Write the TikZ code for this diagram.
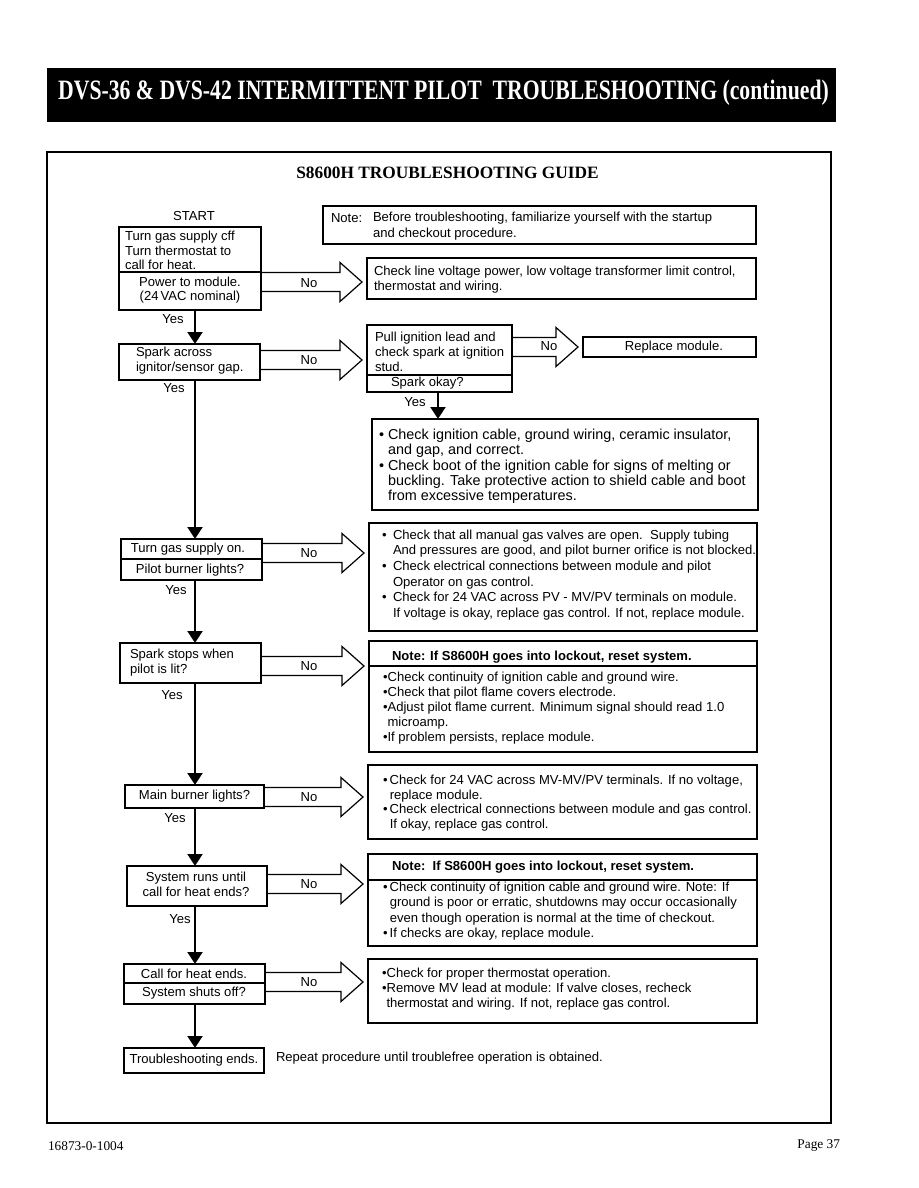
\documentclass[tikz,border=0pt]{standalone}
\usepackage{fontspec}
\setmainfont{Liberation Sans}
\newfontfamily\serif{Liberation Serif}
\usetikzlibrary{arrows.meta,calc}
\newcommand\bxat[5]{\node[bx, minimum width={(#4-#2)*0.75pt}, minimum height={(#5-#3)*0.75pt}] (#1) at (#2,#3) {};}
\newcommand\divline[2]{\draw[divl] (#1.west |- 0,#2) -- (#1.east |- 0,#2);}
\newcommand\fatarrow[3]{%
 \draw[fat] ($(#1.east |- 0,#3)+(0,-9.5)$) -- ($(#2.west |- 0,#3)+(-27,-9.5)$) -- ($(#2.west |- 0,#3)+(-27,-19.5)$)
  -- ($(#2.west |- 0,#3)+(-5,0)$) -- ($(#2.west |- 0,#3)+(-27,19.5)$) -- ($(#2.west |- 0,#3)+(-27,9.5)$)
  -- ($(#1.east |- 0,#3)+(0,9.5)$);}
\begin{document}
\begin{tikzpicture}[x=0.75pt,y=-0.75pt,
 every node/.style={inner sep=0pt, outer sep=0pt},
 bx/.style={draw, line width=1.1pt, anchor=north west},
 divl/.style={line width=0.8pt},
 txt/.style={font=\fontsize{9.8}{11.5}\selectfont, align=left, anchor=west},
 ctxt/.style={font=\fontsize{9.8}{11}\selectfont, align=center},
 btxt/.style={font=\fontsize{9.8}{11.5}\selectfont\bfseries, anchor=west},
 fat/.style={line width=0.9pt, line join=miter},
 vline/.style={line width=2.2pt, -{Triangle[length=9pt,width=11pt]}}]
\useasboundingbox (0,0) rectangle (918,1188);
% header
\fill (47,68) rectangle (836,122);
\node[text=white, anchor=base] (hdr) at (443.5,100) {\resizebox{578pt}{14.6pt}{\serif\bfseries DVS-36 \& DVS-42 INTERMITTENT PILOT\ \ TROUBLESHOOTING (continued)}};
% frame
\draw[line width=1.1pt] (47,152) rectangle (831,1123);
\node[font=\serif\bfseries\fontsize{13}{15}\selectfont] (title) at (447.5,173) {S8600H TROUBLESHOOTING GUIDE};
% footer
\node[font=\serif\fontsize{10}{12}\selectfont, anchor=west] (foot1) at (48,1146) {16873-0-1004};
\node[font=\serif\fontsize{10}{12}\selectfont, anchor=east] (foot2) at (840,1146) {Page 37};

% left boxes
\bxat{b1}{119}{227}{261}{310}
\bxat{b2}{119}{344}{260}{380}
\bxat{b3}{121}{539}{262}{580}
\bxat{b4}{120}{643}{261}{683}
\bxat{b5}{125}{785}{264}{808}
\bxat{b6}{127}{866}{267}{906}
\bxat{b7}{124}{964}{265}{1004}
\bxat{b8}{124}{1048}{264}{1073}
\divline{b1}{272}
\divline{b3}{559}
\divline{b7}{983}
% right boxes
\bxat{note}{323}{206}{756}{244}
\bxat{rline}{367}{258}{756}{299}
\bxat{pull}{367}{325}{512}{392}
\bxat{repl}{583}{337}{756}{357}
\bxat{ign}{372}{419}{758}{510}
\bxat{r3}{369}{523}{757}{631}
\bxat{r4}{369}{641}{757}{752}
\bxat{r5}{368}{765}{757}{839}
\bxat{r6}{368}{854}{757}{946}
\bxat{r7}{368}{959}{757}{1023}
\divline{pull}{375}
\divline{r4}{666}
\divline{r6}{880}

% texts left
\node[ctxt] (start) at (194,216) {START};
\node[txt, font=\fontsize{9.8}{10.9}\selectfont] (t1a) at (125,250.5) {Turn gas supply cff\\Turn thermostat to\\call for heat.};
\node[ctxt] (t1b) at (190,290) {Power to module.\\(24\,VAC nominal)};
\node[txt] (t2) at (136,360.5) {Spark across\\ignitor/sensor gap.};
\node[ctxt] (t3a) at (188,549.5) {Turn gas supply on.};
\node[ctxt] (t3b) at (190,570) {Pilot burner lights?};
\node[txt] (t4) at (130,662.5) {Spark stops when\\pilot is lit?};
\node[ctxt] (t5) at (194.5,796.5) {Main burner lights?};
\node[ctxt] (t6) at (196,884) {System runs until\\call for heat ends?};
\node[ctxt] (t7a) at (194,974) {Call for heat ends.};
\node[ctxt] (t7b) at (194,993) {System shuts off?};
\node[ctxt] (t8) at (194,1060) {Troubleshooting ends.};
\node[txt] (rep) at (276,1058) {Repeat procedure until troublefree operation is obtained.};

% yes labels
\node[ctxt] (y1) at (173,319) {Yes};
\node[ctxt] (y2) at (174,388) {Yes};
\node[ctxt] (y3) at (176,590) {Yes};
\node[ctxt] (y4) at (172,695) {Yes};
\node[ctxt] (y5) at (175,818) {Yes};
\node[ctxt] (y6) at (180,919) {Yes};
\node[ctxt] (y7) at (415,402) {Yes};

% texts right
\node[txt] (n1) at (331,218) {Note:};
\node[txt, font=\fontsize{9.8}{12}\selectfont] (n2) at (373,226) {Before troubleshooting, familiarize yourself with the startup\\and checkout procedure.};
\node[txt, font=\fontsize{9.8}{11.25}\selectfont] (tl) at (374,279.5) {Check line voltage power, low voltage transformer limit control,\\thermostat and wiring.};
\node[txt, font=\fontsize{9.8}{11.25}\selectfont] (tp) at (375,352) {Pull ignition lead and\\check spark at ignition\\stud.};
\node[txt] (tpo) at (391,383) {Spark okay?};
\node[ctxt] (trep) at (674,347) {Replace module.};
\node[txt, font=\fontsize{10.8}{11.45}\selectfont] (tign) at (379,466.5) {•\ Check ignition cable, ground wiring, ceramic insulator,\\\hphantom{•\ }and gap, and correct.\\•\ Check boot of the ignition cable for signs of melting or\\\hphantom{•\ }buckling. Take protective action to shield cable and boot\\\hphantom{•\ }from excessive temperatures.};
\node[txt] (r3b1) at (382,536) {•};
\node[txt] (r3b2) at (382,567) {•};
\node[txt] (r3b3) at (382,598) {•};
\node[txt, font=\fontsize{9.8}{11.7}\selectfont] (tr3) at (393,575) {Check that all manual gas valves are open.\ \ Supply tubing\\And pressures are good, and pilot burner orifice is not blocked.\\Check electrical connections between module and pilot\\Operator on gas control.\\Check for 24 VAC across PV - MV/PV terminals on module.\\If voltage is okay, replace gas control. If not, replace module.};
\node[btxt] (r4t) at (392,657) {Note: If S8600H goes into lockout, reset system.};
\node[txt, font=\fontsize{9.8}{11.25}\selectfont] (tr4) at (383,708) {•Check continuity of ignition cable and ground wire.\\•Check that pilot flame covers electrode.\\•Adjust pilot flame current. Minimum signal should read 1.0\\\hphantom{•}microamp.\\•If problem persists, replace module.};
\node[txt, font=\fontsize{9.8}{11}\selectfont] (tr5) at (383,803) {•\,Check for 24 VAC across MV-MV/PV terminals. If no voltage,\\\hphantom{•\,}replace module.\\•\,Check electrical connections between module and gas control.\\\hphantom{•\,}If okay, replace gas control.};
\node[btxt] (r6t) at (392,867) {Note:\ \ If S8600H goes into lockout, reset system.};
\node[txt, font=\fontsize{9.8}{11.5}\selectfont] (tr6) at (383,911) {•\,Check continuity of ignition cable and ground wire. Note: If\\\hphantom{•\,}ground is poor or erratic, shutdowns may occur occasionally\\\hphantom{•\,}even though operation is normal at the time of checkout.\\•\,If checks are okay, replace module.};
\node[txt, font=\fontsize{9.8}{11.25}\selectfont] (tr7) at (382,989) {•Check for proper thermostat operation.\\•Remove MV lead at module: If valve closes, recheck\\\hphantom{•}thermostat and wiring. If not, replace gas control.};

% fat No arrows
\fatarrow{b1}{rline}{282}
\fatarrow{b2}{pull}{360}
\fatarrow{pull}{repl}{347}
\fatarrow{b3}{r3}{553}
\fatarrow{b4}{r4}{666}
\fatarrow{b5}{r5}{797}
\fatarrow{b6}{r6}{884}
\fatarrow{b7}{r7}{982}
\node[ctxt] (no1) at (309,283) {No};
\node[ctxt] (no2) at (309,360) {No};
\node[ctxt] (no3) at (549,346) {No};
\node[ctxt] (no4) at (309,553) {No};
\node[ctxt] (no5) at (309,666) {No};
\node[ctxt] (no6) at (309,797) {No};
\node[ctxt] (no7) at (309,884) {No};
\node[ctxt] (no8) at (309,982) {No};

% main flow
\coordinate (mx) at (195,0);
\coordinate (px) at (438,0);
\draw[vline] (b1.south -| mx) -- (b2.north -| mx);
\draw[vline] (b2.south -| mx) -- (b3.north -| mx);
\draw[vline] (b3.south -| mx) -- (b4.north -| mx);
\draw[vline] (b4.south -| mx) -- (b5.north -| mx);
\draw[vline] (b5.south -| mx) -- (b6.north -| mx);
\draw[vline] (b6.south -| mx) -- (b7.north -| mx);
\draw[vline] (b7.south -| mx) -- (b8.north -| mx);
\draw[vline] (pull.south -| px) -- (ign.north -| px);
\end{tikzpicture}
\end{document}
